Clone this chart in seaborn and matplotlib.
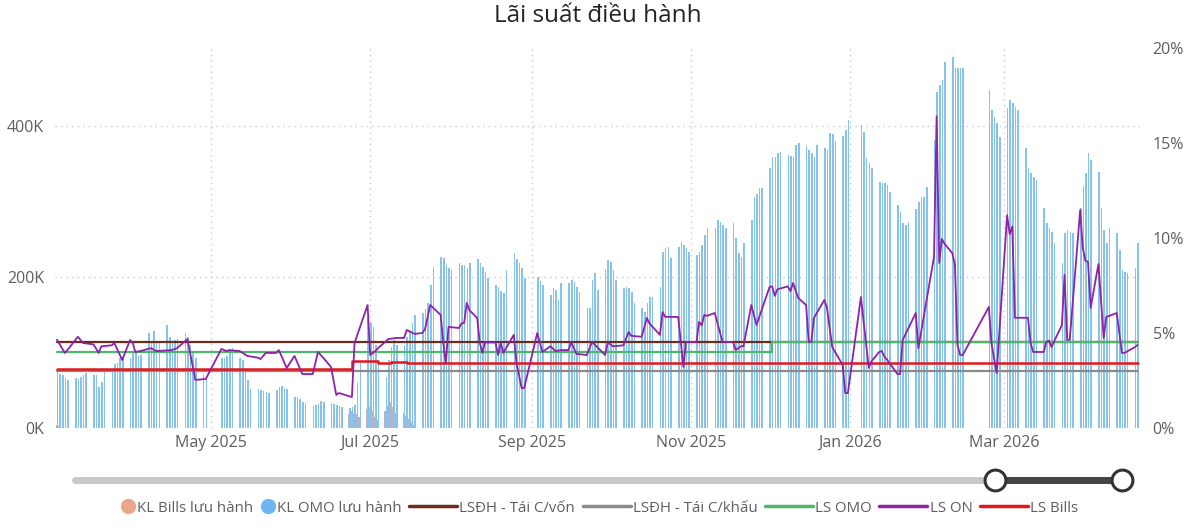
import pandas as pd
import matplotlib
matplotlib.use("Agg")
import matplotlib.pyplot as plt
import matplotlib.dates as mdates
from matplotlib.lines import Line2D
from matplotlib.legend_handler import HandlerBase
import seaborn as sns

# ------------------------------------------
# DATA
# ------------------------------------------
WEEK_START = "2025-03-03"

# KL OMO luu hanh, thousand bn VND, Mon..Fri per week (None = holiday)
omo_weeks = [
    [77, 72, 70, 66, 64], [66, 65, 67, 70, 73], [70, 70, 54, 61, 74],
    [74, 85, 86, 93, 94], [93, 99, 100, 96, 97], [126, 113, 128, 113, 112],
    [136, 120, 113, 117, 118], [126, 120, 110, 99, 93], [72, 68, None, None, None],
    [93, 93, 95, 99, 106], [93, 90, 77, 64, 52], [52, 50, 49, 48, 46],
    [50, 54, 56, 53, 52], [41, 41, 38, 34, 33], [29, 30, 32, 36, 34],
    [33, 32, 30, 29, 28], [26, 28, 30, 60, 88], [146, 139, 134, 110, 86],
    [68, 90, 107, 117, 110], [110, 120, 127, 139, 150], [152, 157, 165, 189, 213],
    [227, 225, 216, 212, 209], [218, 216, 216, 212, 218], [224, 218, 213, 207, 199],
    [189, 187, 181, 179, 209], [232, 224, 218, 212, 199], [None, None, 200, 195, 190],
    [176, 185, 183, 170, 192], [192, 196, 193, 187, 180], [159, 159, 196, 205, 183],
    [211, 222, 220, 209, 196], [185, 187, 185, 180, 166], [159, 154, 166, 174, 174],
    [187, 233, 238, 240, 225], [240, 246, 242, 238, 233], [229, 233, 242, 256, 265],
    [265, 275, 273, 269, 265], [271, 252, 232, 226, 245], [275, 306, 310, 318, 318],
    [344, 359, 359, 364, 366], [362, 360, 359, 375, 377], [373, 368, 364, 359, 375],
    [371, 368, 391, 389, 380], [387, 395, 408, None, None], [401, 392, 358, 351, 344],
    [326, 324, 324, 322, 313], [295, 286, 272, 269, 273], [290, 299, 306, 306, 319],
    [381, 445, 454, 461, 485], [491, 477, 477, 477, 477], [None, None, None, None, None],
    [448, 421, 412, 404, 385], [424, 434, 430, 425, 421], [371, 344, 338, 332, 328],
    [291, 272, 265, 260, 245], [218, 258, 262, 260, 258], [291, 320, 338, 364, 355],
    [339, 291, 262, 245, 265], [258, 236, 209, 207, 205], [212, 245, None, None, None],
]

# KL Bills luu hanh, thousand bn VND, only the weeks where it is visible
bills_weeks = {
    0: [4, 3, 0, 0, 0],
    16: [18, 22, 20, 18, 15],
    17: [25, 28, 22, 15, 10],
    18: [22, 30, 34, 28, 20],
    19: [20, 16, 12, 8, 4],
}

# policy rates (%), step changes
refi_dates = ["2025-03-03", "2026-04-21"]
refi_vals = [4.5, 4.5]
discount_dates = ["2025-03-03", "2026-04-21"]
discount_vals = [3.0, 3.0]
omo_rate_dates = ["2025-03-03", "2025-12-02", "2026-04-21"]
omo_rate_vals = [4.0, 4.5, 4.5]
bills_rate_dates = ["2025-03-03", "2025-06-24", "2025-07-04", "2025-07-09", "2025-07-15", "2026-04-21"]
bills_rate_vals = [3.10, 3.53, 3.42, 3.47, 3.40, 3.40]

# overnight interbank rate (%)
on_dates = [
    "2025-03-03", "2025-03-06", "2025-03-07", "2025-03-11", "2025-03-13", "2025-03-17",
    "2025-03-19", "2025-03-20", "2025-03-24", "2025-03-25", "2025-03-28", "2025-03-31",
    "2025-04-01", "2025-04-02", "2025-04-04", "2025-04-08", "2025-04-10", "2025-04-16",
    "2025-04-18", "2025-04-22", "2025-04-25", "2025-04-29", "2025-05-05", "2025-05-07",
    "2025-05-08", "2025-05-12", "2025-05-15", "2025-05-19", "2025-05-20", "2025-05-22",
    "2025-05-26", "2025-05-27", "2025-05-30", "2025-06-02", "2025-06-05", "2025-06-09",
    "2025-06-11", "2025-06-13", "2025-06-16", "2025-06-18", "2025-06-19", "2025-06-24",
    "2025-06-25", "2025-06-30", "2025-07-01", "2025-07-03", "2025-07-04", "2025-07-08",
    "2025-07-11", "2025-07-14", "2025-07-15", "2025-07-18", "2025-07-21", "2025-07-22",
    "2025-07-24", "2025-07-28", "2025-07-29", "2025-07-30", "2025-07-31", "2025-08-04",
    "2025-08-05", "2025-08-06", "2025-08-07", "2025-08-08", "2025-08-11", "2025-08-12",
    "2025-08-13", "2025-08-14", "2025-08-18", "2025-08-19", "2025-08-20", "2025-08-21",
    "2025-08-25", "2025-08-26", "2025-08-28", "2025-08-29", "2025-09-03", "2025-09-05",
    "2025-09-08", "2025-09-10", "2025-09-12", "2025-09-15", "2025-09-16", "2025-09-18",
    "2025-09-22", "2025-09-24", "2025-09-29", "2025-09-30", "2025-10-02", "2025-10-06",
    "2025-10-08", "2025-10-09", "2025-10-13", "2025-10-15", "2025-10-16", "2025-10-20",
    "2025-10-21", "2025-10-22", "2025-10-27", "2025-10-29", "2025-10-30", "2025-11-03",
    "2025-11-04", "2025-11-05", "2025-11-06", "2025-11-07", "2025-11-10", "2025-11-13",
    "2025-11-17", "2025-11-18", "2025-11-20", "2025-11-21", "2025-11-24", "2025-11-26",
    "2025-12-01", "2025-12-02", "2025-12-03", "2025-12-04", "2025-12-08", "2025-12-09",
    "2025-12-10", "2025-12-12", "2025-12-15", "2025-12-16", "2025-12-17", "2025-12-18",
    "2025-12-22", "2025-12-23", "2025-12-25", "2025-12-29", "2025-12-30", "2025-12-31",
    "2026-01-05", "2026-01-08", "2026-01-09", "2026-01-12", "2026-01-13", "2026-01-14",
    "2026-01-15", "2026-01-16", "2026-01-19", "2026-01-20", "2026-01-21", "2026-01-26",
    "2026-01-27", "2026-02-02", "2026-02-03", "2026-02-04", "2026-02-05", "2026-02-06",
    "2026-02-09", "2026-02-10", "2026-02-11", "2026-02-12", "2026-02-13", "2026-02-23",
    "2026-02-24", "2026-02-26", "2026-03-02", "2026-03-03", "2026-03-04", "2026-03-05",
    "2026-03-10", "2026-03-11", "2026-03-12", "2026-03-16", "2026-03-17", "2026-03-18",
    "2026-03-19", "2026-03-23", "2026-03-24", "2026-03-25", "2026-03-26", "2026-03-30",
    "2026-03-31", "2026-04-01", "2026-04-02", "2026-04-03", "2026-04-06", "2026-04-08",
    "2026-04-09", "2026-04-13", "2026-04-15", "2026-04-16", "2026-04-20", "2026-04-21",
]
on_vals = [
    4.65, 3.95, 4.10, 4.80, 4.47, 4.40,
    3.95, 4.30, 4.35, 4.47, 3.58, 4.63,
    4.50, 4.00, 4.05, 4.20, 4.05, 4.10,
    4.20, 4.68, 2.53, 2.58, 4.16, 4.05,
    4.10, 4.05, 3.79, 3.70, 3.63, 3.95,
    3.95, 4.10, 3.16, 3.79, 2.84, 2.84,
    4.00, 3.70, 3.21, 1.74, 1.84, 1.63,
    4.47, 6.47, 3.84, 4.05, 4.20, 4.68,
    4.74, 4.74, 5.16, 4.95, 5.00, 5.20,
    6.47, 5.95, 4.47, 3.42, 5.32, 5.26,
    5.50, 5.53, 6.58, 6.20, 5.79, 4.47,
    3.95, 4.50, 4.50, 3.84, 4.50, 3.95,
    4.90, 3.47, 2.10, 2.10, 5.00, 4.00,
    4.30, 4.05, 4.10, 4.10, 4.53, 3.90,
    3.84, 4.53, 3.84, 4.50, 4.30, 4.35,
    5.05, 4.85, 4.80, 5.79, 5.50, 4.90,
    6.10, 5.85, 5.84, 3.21, 4.53, 4.53,
    5.58, 5.40, 5.95, 5.90, 6.05, 4.53,
    4.53, 4.10, 4.30, 4.30, 6.47, 5.42,
    7.42, 7.45, 6.95, 7.30, 7.45, 7.20,
    7.63, 6.84, 6.47, 4.53, 4.53, 5.79,
    6.74, 6.32, 4.26, 3.32, 1.84, 1.84,
    6.89, 3.16, 3.50, 4.00, 4.05, 3.75,
    3.60, 3.40, 2.84, 2.84, 4.63, 6.05,
    4.20, 9.00, 16.40, 8.68, 9.95, 9.70,
    9.20, 8.60, 4.37, 3.84, 3.84, 6.37,
    4.47, 2.89, 11.20, 10.20, 10.60, 5.80,
    5.80, 4.47, 4.00, 4.00, 4.53, 4.60,
    4.26, 5.42, 8.05, 4.63, 4.65, 11.47,
    9.47, 8.80, 8.75, 6.32, 8.63, 4.74,
    5.84, 6.05, 3.95, 3.95, 4.26, 4.37,
]

TITLE = "Lãi suất điều hành"
DOT_LABELS = ["KL Bills lưu hành", "KL OMO lưu hành"]
LINE_LABELS = ["LSĐH - Tái C/vốn", "LSĐH - Tái C/khấu", "LS OMO", "LS ON", "LS Bills"]

# ------------------------------------------
# COLOURS
# ------------------------------------------
C_OMO_BAR = "#86C3EC"
C_BILLS_BAR = "#B9B2C8"
C_BILLS_LEG = "#E9A68A"
C_OMO_LEG = "#6DB6F2"
C_REFI = "#6E2A1A"
C_DISC = "#8A8A8A"
C_OMO = "#4CB86A"
C_ON = "#8E22A8"
C_BILLS = "#E3171C"
C_TEXT = "#605E5C"
C_GRID = "#C8C8C8"


class DotHandler(HandlerBase):
    # legend dot sitting right next to its text
    def create_artists(self, legend, orig_handle, xdescent, ydescent,
                       width, height, fontsize, trans):
        x = -xdescent + width - 0.45 * fontsize
        y = -ydescent + height / 2
        dot = Line2D([x], [y], linestyle="none", marker="o",
                     markersize=orig_handle.get_markersize(),
                     color=orig_handle.get_color(), transform=trans)
        return [dot]


def build_daily():
    mondays = pd.date_range(WEEK_START, periods=len(omo_weeks), freq="W-MON")
    rows = []
    for k, (monday, week) in enumerate(zip(mondays, omo_weeks)):
        bills = bills_weeks.get(k, [0] * 5)
        for d, v in enumerate(week):
            if v is None:
                continue
            rows.append((monday + pd.Timedelta(days=d), v * 1000, bills[d] * 1000))
    return pd.DataFrame(rows, columns=["date", "omo", "bills"])


def main():
    sns.set_theme(style="white")
    plt.rcParams["font.family"] = ["Open Sans", "DejaVu Sans"]

    df = build_daily()

    fig = plt.figure(figsize=(12, 5.32), dpi=100)
    ax = fig.add_axes([55 / 1200, 1 - 428 / 532, 1085 / 1200, 382 / 532])
    ax2 = ax.twinx()

    # bars
    ax.bar(df["date"] - pd.Timedelta(hours=7), df["bills"], width=0.5,
           color=C_BILLS_BAR, linewidth=0, zorder=2)
    ax.bar(df["date"] + pd.Timedelta(hours=5), df["omo"], width=0.6,
           color=C_OMO_BAR, linewidth=0, zorder=2)

    # rate lines
    steps = [
        (discount_dates, discount_vals, C_DISC, 1.6),
        (refi_dates, refi_vals, C_REFI, 1.6),
        (omo_rate_dates, omo_rate_vals, C_OMO, 1.6),
        (bills_rate_dates, bills_rate_vals, C_BILLS, 1.8),
    ]
    for dates, vals, col, lw in steps:
        sns.lineplot(x=pd.to_datetime(dates), y=vals, ax=ax2, color=col,
                     linewidth=lw, drawstyle="steps-post")
    sns.lineplot(x=pd.to_datetime(on_dates), y=on_vals, ax=ax2, color=C_ON, linewidth=1.3)

    # axes limits / ticks
    ax.set_xlim(pd.Timestamp("2025-03-02 06:00"), pd.Timestamp("2026-04-21 22:00"))
    ax.set_ylim(0, 506000)
    ax2.set_ylim(0, 20.1)

    ax.set_yticks([0, 200000, 400000])
    ax.set_yticklabels(["0K", "200K", "400K"])
    ax2.set_yticks([0, 5, 10, 15, 20])
    ax2.set_yticklabels(["0%", "5%", "10%", "15%", "20%"])

    ax.xaxis.set_major_locator(mdates.MonthLocator(bymonth=[1, 3, 5, 7, 9, 11]))
    ax.xaxis.set_major_formatter(mdates.DateFormatter("%b %Y"))

    for a in (ax, ax2):
        a.set_xlabel("")
        a.set_ylabel("")
        for s in a.spines.values():
            s.set_visible(False)
    ax.tick_params(axis="both", length=0, labelsize=11.5, labelcolor=C_TEXT)
    ax.tick_params(axis="y", pad=8)
    ax.tick_params(axis="x", pad=5)
    ax2.tick_params(axis="y", length=0, labelsize=11.5, labelcolor=C_TEXT, pad=9)

    ax.grid(True, axis="both", color=C_GRID, linestyle=(0, (1, 3)), linewidth=1)
    ax.set_axisbelow(True)

    # title
    fig.text(0.498, 1 - 16 / 532, TITLE, ha="center", va="center",
             fontsize=17.5, color="#252423")

    # range slider (decoration)
    sax = fig.add_axes([75 / 1200, 1 - 495 / 532, (1122 - 75) / 1200, 30 / 532])
    sax.set_xlim(0, 1)
    sax.set_ylim(-1, 1)
    sax.axis("off")
    knob_a = (995 - 75) / (1122 - 75)
    sax.plot([0, 1], [0, 0], color="#C8C8C8", lw=5, solid_capstyle="round", clip_on=False)
    sax.plot([knob_a, 1], [0, 0], color="#444444", lw=5, clip_on=False)
    sax.plot([knob_a, 1], [0, 0], linestyle="none", marker="o", markersize=15,
             markerfacecolor="white", markeredgecolor="#333333", markeredgewidth=2.2,
             clip_on=False)

    # legend: dots part + lines part, side by side
    legend_y = 1 - 508 / 532
    dot_handles = [
        Line2D([], [], linestyle="none", marker="o", markersize=10, color=C_BILLS_LEG),
        Line2D([], [], linestyle="none", marker="o", markersize=10, color=C_OMO_LEG),
    ]
    line_handles = [Line2D([], [], color=c, lw=2.5)
                    for c in (C_REFI, C_DISC, C_OMO, C_ON, C_BILLS)]
    leg1 = fig.legend(dot_handles, DOT_LABELS, loc="center right", ncol=2,
                      bbox_to_anchor=(402 / 1200, legend_y), frameon=False,
                      fontsize=10.8, handlelength=1.0, handletextpad=0.2,
                      columnspacing=0.4, borderpad=0, borderaxespad=0,
                      handler_map={Line2D: DotHandler()})
    leg2 = fig.legend(line_handles, LINE_LABELS, loc="center left", ncol=5,
                      bbox_to_anchor=(409 / 1200, legend_y), frameon=False,
                      fontsize=10.8, handlelength=3.2, handletextpad=0.15,
                      columnspacing=0.5, borderpad=0, borderaxespad=0)
    for leg in (leg1, leg2):
        for t in leg.get_texts():
            t.set_color(C_TEXT)

    fig.savefig("out.png", dpi=100)


if __name__ == "__main__":
    main()
